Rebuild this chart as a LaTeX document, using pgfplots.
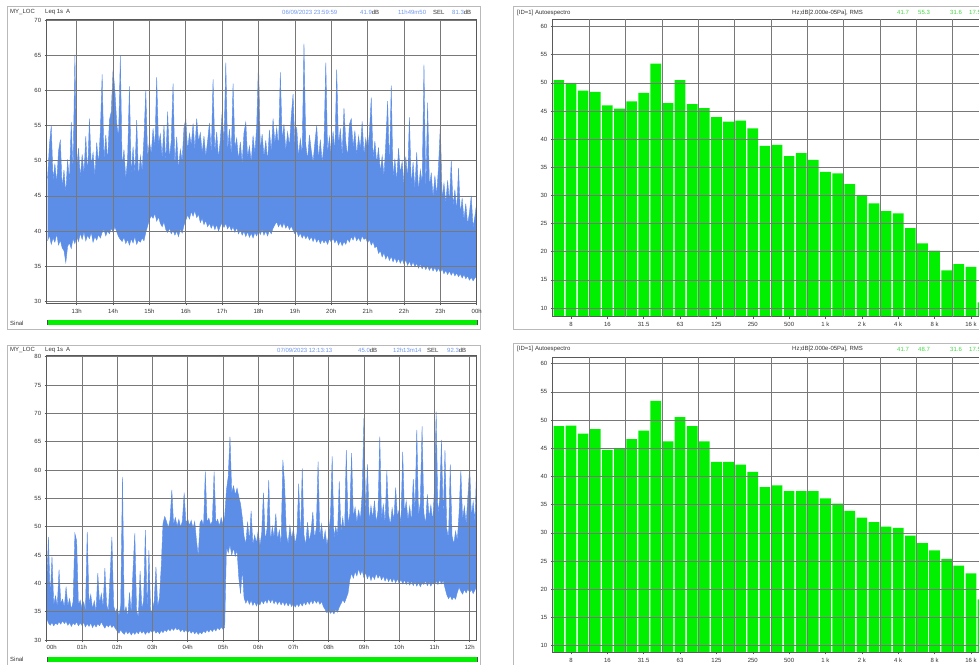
\documentclass[border=0pt]{standalone}
\usepackage{fontspec}
\setmainfont{Liberation Sans}
\usepackage{pgfplots}
\usepackage{pgfplotstable}
\pgfplotsset{compat=1.18}
\usepgfplotslibrary{fillbetween}
\definecolor{tsblue}{RGB}{92,142,232}
\definecolor{hdrblue}{RGB}{110,150,235}
\definecolor{bargreen}{RGB}{0,240,0}
\definecolor{hdrgreen}{RGB}{70,215,70}
\definecolor{gridgray}{RGB}{120,120,120}
\definecolor{framegray}{RGB}{185,185,185}

\pgfplotstableread{
t lo hi
12.20 38.6 47.5
12.25 39.4 52.3
12.30 38.1 55.0
12.35 39.0 47.2
12.40 38.4 49.6
12.45 39.6 46.8
12.50 38.0 51.4
12.55 38.7 53.0
12.60 37.6 46.1
12.65 37.2 48.7
12.70 35.5 45.3
12.75 37.8 50.2
12.80 38.3 47.0
12.85 37.5 55.5
12.90 38.9 48.4
12.95 38.2 65.1
13.00 39.3 49.0
13.05 38.5 51.8
13.10 39.7 47.6
13.15 38.8 50.9
13.20 39.9 48.2
13.25 38.6 53.5
13.30 39.4 47.9
13.35 38.9 56.0
13.40 39.8 49.3
13.45 38.4 51.2
13.50 39.2 47.8
13.55 38.7 52.6
13.60 39.5 49.5
13.65 39.0 54.2
13.70 39.8 62.3
13.75 40.2 50.1
13.80 39.3 53.7
13.85 40.0 49.8
13.90 39.6 55.8
13.95 40.4 57.0
14.00 39.8 63.0
14.05 40.6 60.0
14.10 39.9 55.4
14.15 39.2 53.1
14.20 38.8 64.9
14.25 38.5 49.2
14.30 39.1 51.6
14.35 38.2 47.4
14.40 38.8 50.3
14.45 38.0 60.6
14.50 38.9 47.9
14.55 38.3 52.0
14.60 39.2 48.1
14.65 38.1 55.8
14.70 38.7 47.5
14.75 38.4 50.7
14.80 39.0 48.6
14.85 38.6 53.3
14.90 39.8 60.0
14.95 40.7 50.5
15.00 41.6 52.8
15.05 42.2 51.0
15.10 41.8 54.6
15.15 42.5 51.7
15.20 41.4 61.9
15.25 42.0 52.3
15.30 41.1 53.8
15.35 40.6 50.4
15.40 41.3 55.1
15.45 40.2 49.6
15.50 39.8 57.0
15.55 40.4 50.2
15.60 39.6 52.9
15.65 40.1 61.0
15.70 39.4 49.3
15.75 40.0 53.4
15.80 39.2 48.8
15.85 40.3 51.6
15.90 39.7 50.0
15.95 40.8 54.7
16.00 41.5 56.0
16.05 42.3 51.4
16.10 41.7 53.9
16.15 42.8 52.2
16.20 42.1 55.3
16.25 42.9 51.6
16.30 41.9 56.0
16.35 42.4 52.7
16.40 41.2 54.0
16.45 41.8 51.1
16.50 40.9 53.5
16.55 41.5 50.6
16.60 40.6 52.8
16.65 41.1 55.4
16.70 40.4 50.9
16.75 41.0 61.6
16.80 40.2 51.2
16.85 40.9 54.1
16.90 40.0 50.3
16.95 40.7 53.0
17.00 41.2 57.0
17.05 40.5 52.4
17.10 41.1 64.0
17.15 40.3 51.3
17.20 40.8 54.5
17.25 40.1 50.7
17.30 40.6 61.0
17.35 39.8 51.9
17.40 40.5 53.2
17.45 39.6 50.1
17.50 40.2 52.7
17.55 39.4 49.6
17.60 40.0 54.0
17.65 39.2 55.5
17.70 39.9 50.4
17.75 39.1 52.1
17.80 39.7 49.8
17.85 39.0 53.6
17.90 39.8 51.0
17.95 39.3 55.0
18.00 40.1 64.2
18.05 39.5 51.5
18.10 40.2 53.8
18.15 39.4 50.6
18.20 40.0 52.9
18.25 39.3 49.9
18.30 40.1 54.4
18.35 39.6 51.2
18.40 40.4 56.0
18.45 40.9 52.5
18.50 41.3 54.7
18.55 40.6 51.8
18.60 41.1 62.6
18.65 40.5 53.0
18.70 41.2 55.2
18.75 40.4 51.4
18.80 40.9 54.1
18.85 40.2 52.0
18.90 40.7 56.3
18.95 40.1 59.5
19.00 39.6 52.2
19.05 40.0 54.8
19.10 39.2 50.5
19.15 39.7 53.1
19.20 39.0 51.0
19.25 39.5 66.7
19.30 38.9 52.3
19.35 39.4 50.1
19.40 38.7 53.7
19.45 39.2 51.5
19.50 38.5 49.8
19.55 39.1 52.6
19.60 38.4 55.0
19.65 38.9 50.2
19.70 38.2 53.0
19.75 38.8 49.7
19.80 38.3 52.4
19.85 38.7 64.0
19.90 38.1 51.1
19.95 38.9 53.4
20.00 38.4 50.6
20.05 39.0 54.2
20.10 38.3 51.3
20.15 38.8 63.0
20.20 38.0 52.0
20.25 38.6 54.6
20.30 37.9 50.8
20.35 38.5 57.5
20.40 38.1 52.7
20.45 38.9 50.5
20.50 38.4 55.2
20.55 39.2 56.0
20.60 38.7 51.9
20.65 39.4 54.3
20.70 38.6 50.7
20.75 39.1 53.5
20.80 38.5 51.6
20.85 39.3 55.6
20.90 38.8 50.9
20.95 39.0 53.2
21.00 38.3 51.4
21.05 38.8 54.0
21.10 38.0 59.0
21.15 38.5 50.3
21.20 37.6 52.8
21.25 37.9 49.6
21.30 36.8 51.9
21.35 37.2 48.4
21.40 36.3 50.7
21.45 36.9 47.8
21.50 36.0 52.5
21.55 36.6 58.5
21.60 35.8 48.9
21.65 36.4 60.7
21.70 35.6 47.5
21.75 36.2 50.3
21.80 35.5 47.0
21.85 36.1 51.8
21.90 35.4 48.2
21.95 36.0 49.9
22.00 35.3 46.6
22.05 35.9 50.6
22.10 35.1 47.3
22.15 35.7 56.2
22.20 35.0 46.4
22.25 35.6 49.8
22.30 34.9 46.0
22.35 35.4 51.2
22.40 34.7 45.6
22.45 35.3 48.7
22.50 34.6 46.9
22.55 35.1 63.7
22.60 34.5 45.3
22.65 35.0 58.3
22.70 34.4 46.2
22.75 34.9 48.3
22.80 34.3 44.8
22.85 34.8 47.9
22.90 34.2 45.1
22.95 34.7 49.2
23.00 34.1 55.0
23.05 34.6 44.6
23.10 33.9 46.8
23.15 34.4 43.9
23.20 33.8 47.2
23.25 34.3 44.1
23.30 33.7 50.0
23.35 34.2 43.6
23.40 33.6 45.9
23.45 34.0 42.8
23.50 33.5 49.0
23.55 33.9 42.4
23.60 33.3 44.7
23.65 33.8 41.6
23.70 33.2 43.9
23.75 33.6 40.9
23.80 33.0 42.6
23.85 33.4 45.0
23.90 32.9 40.5
23.95 33.3 42.1
24.00 33.6 44.0
}\tsA

\pgfplotstableread{
t lo hi
0.00 33.8 39.5
0.05 33.0 48.2
0.10 32.6 37.4
0.15 33.1 44.7
0.20 32.5 36.2
0.25 33.0 37.8
0.30 32.7 35.9
0.35 33.2 42.4
0.40 32.8 36.5
0.45 33.4 37.2
0.50 32.9 35.8
0.55 33.3 39.4
0.60 32.6 36.0
0.65 33.1 37.3
0.70 32.4 35.4
0.75 33.0 36.8
0.80 32.7 48.8
0.85 33.2 47.5
0.90 32.5 36.1
0.95 33.0 37.0
1.00 32.6 35.6
1.05 33.1 36.7
1.10 32.3 35.2
1.15 32.9 49.1
1.20 32.4 36.4
1.25 33.0 38.0
1.30 32.2 35.5
1.35 32.8 36.9
1.40 32.3 35.0
1.45 32.9 41.8
1.50 32.5 36.3
1.55 33.2 38.2
1.60 32.6 35.8
1.65 32.1 42.7
1.70 32.7 36.2
1.75 32.3 35.1
1.80 32.8 41.5
1.85 32.2 48.2
1.90 32.6 36.0
1.95 32.0 34.9
2.00 31.6 35.6
2.05 31.2 34.3
2.10 31.8 36.0
2.15 31.3 58.8
2.20 31.0 34.7
2.25 31.6 35.9
2.30 31.1 34.1
2.35 31.5 38.4
2.40 30.9 34.6
2.45 31.4 42.5
2.50 31.0 48.8
2.55 31.5 35.2
2.60 31.1 34.0
2.65 31.7 42.2
2.70 31.2 35.6
2.75 31.6 36.9
2.80 31.0 49.4
2.85 31.5 35.1
2.90 31.2 45.8
2.95 31.7 34.8
3.00 31.3 35.4
3.05 31.8 36.8
3.10 31.2 42.9
3.15 31.6 35.9
3.20 31.1 37.5
3.25 31.7 43.0
3.30 31.3 50.6
3.35 31.8 51.8
3.40 31.5 50.9
3.45 32.0 49.8
3.50 31.6 51.2
3.55 32.1 56.5
3.60 31.7 50.4
3.65 32.2 51.6
3.70 31.8 50.1
3.75 32.0 51.3
3.80 31.5 49.9
3.85 31.9 51.0
3.90 31.4 56.0
3.95 31.8 50.6
4.00 31.3 51.4
4.05 31.7 50.2
4.10 31.2 51.1
4.15 31.6 49.7
4.20 31.1 50.9
4.25 31.5 47.5
4.30 31.0 44.8
4.35 31.4 50.7
4.40 31.1 51.2
4.45 31.6 50.0
4.50 31.3 59.7
4.55 31.8 50.8
4.60 31.4 51.5
4.65 31.9 50.3
4.70 31.5 51.0
4.75 32.0 59.7
4.80 31.6 50.6
4.85 32.2 51.3
4.90 31.8 50.1
4.95 32.3 51.6
5.00 31.9 50.4
5.05 32.2 51.8
5.10 46.5 56.5
5.15 45.4 58.8
5.20 46.8 65.9
5.25 45.0 56.0
5.30 46.2 57.2
5.35 44.8 55.6
5.40 45.9 56.8
5.45 41.0 55.3
5.50 38.2 54.0
5.55 42.5 51.6
5.60 37.4 48.3
5.65 36.5 46.9
5.70 37.2 50.9
5.75 36.3 47.4
5.80 37.0 52.8
5.85 36.1 46.8
5.90 36.8 48.5
5.95 36.0 47.1
6.00 36.7 49.3
6.05 36.2 46.6
6.10 37.0 48.9
6.15 36.4 56.0
6.20 37.1 47.5
6.25 36.5 49.6
6.30 37.3 58.2
6.35 36.6 47.2
6.40 37.2 50.0
6.45 36.4 48.1
6.50 37.0 52.3
6.55 36.3 47.6
6.60 36.9 49.4
6.65 36.2 46.9
6.70 36.8 61.8
6.75 36.1 57.5
6.80 36.7 48.6
6.85 36.0 47.0
6.90 36.6 50.2
6.95 35.9 47.8
7.00 36.5 49.7
7.05 35.8 46.9
7.10 36.4 48.8
7.15 35.9 57.6
7.20 36.6 47.3
7.25 36.0 60.3
7.30 36.7 48.5
7.35 36.2 46.7
7.40 36.9 50.8
7.45 36.3 47.4
7.50 37.0 49.1
7.55 36.4 52.6
7.60 37.1 47.8
7.65 36.5 49.9
7.70 37.0 61.5
7.75 36.3 48.2
7.80 36.8 50.5
7.85 35.9 47.1
7.90 35.4 49.3
7.95 34.8 46.8
8.00 35.3 48.6
8.05 34.7 51.7
8.10 35.1 62.4
8.15 34.6 47.9
8.20 35.4 50.0
8.25 34.9 48.4
8.30 35.8 58.0
8.35 36.4 49.2
8.40 37.1 51.6
8.45 36.6 48.7
8.50 37.4 63.5
8.55 38.3 50.4
8.60 40.6 52.3
8.65 41.8 63.0
8.70 40.9 51.7
8.75 42.1 53.4
8.80 41.3 50.8
8.85 42.6 52.9
8.90 41.5 51.2
8.95 42.3 55.8
9.00 41.0 69.1
9.05 41.9 52.0
9.10 40.8 61.0
9.15 41.6 50.9
9.20 40.5 53.7
9.25 41.4 51.5
9.30 40.7 54.6
9.35 41.8 50.7
9.40 40.9 52.8
9.45 41.5 65.9
9.50 40.6 51.3
9.55 41.3 53.9
9.60 40.4 50.6
9.65 41.1 59.8
9.70 40.3 52.1
9.75 41.0 50.3
9.80 40.2 53.3
9.85 40.9 51.0
9.90 40.1 56.9
9.95 40.8 51.8
10.00 40.0 53.0
10.05 40.7 50.5
10.10 39.9 63.2
10.15 40.6 52.4
10.20 39.8 54.5
10.25 40.5 51.1
10.30 39.7 53.6
10.35 40.4 50.8
10.40 39.6 58.4
10.45 40.3 52.7
10.50 39.5 67.1
10.55 40.2 51.9
10.60 39.4 54.2
10.65 40.1 67.7
10.70 39.8 52.5
10.75 40.4 50.4
10.80 39.6 55.7
10.85 40.2 51.6
10.90 39.5 53.8
10.95 40.3 50.9
11.00 39.7 56.4
11.05 40.4 70.3
11.10 39.8 52.2
11.15 40.6 54.9
11.20 39.9 65.3
11.25 40.5 51.4
11.30 39.2 63.5
11.35 38.0 49.6
11.40 37.3 47.8
11.45 37.8 61.0
11.50 37.1 48.4
11.55 37.6 46.9
11.60 37.2 49.2
11.65 38.4 47.6
11.70 39.3 52.5
11.75 38.6 60.0
11.80 38.1 51.2
11.85 38.9 53.6
11.90 38.3 50.5
11.95 39.0 55.3
12.00 38.4 60.6
12.05 38.9 51.8
12.10 38.2 54.4
12.15 38.8 50.9
12.20 39.5 60.8
}\tsB

\pgfplotsset{
  common/.style={
    scale only axis, anchor=south west, axis on top,
    enlargelimits=false,
    axis line style={black!65, line width=0.8pt},
    grid style={gridgray, line width=0.6pt},
    tick style={black!65, line width=0.5pt},
    major tick length=2pt, tick align=outside,
    xtick pos=bottom, ytick pos=left,
    ticklabel style={font=\fontsize{6}{7}\selectfont, text=black!80},
    /pgf/number format/assume math mode=true,
  },
  tsaxis/.style={common, width=430pt, xmajorgrids, ymajorgrids},
  spaxis/.style={common, width=436.3pt, xmin=-0.5, xmax=35.5,
    ymajorgrids, ytick={10,15,...,60},
    xtick={1,4,...,34},
    xticklabels={8,16,31.5,63,125,250,500,1 k,2 k,4 k,8 k,16 k},
    extra x ticks={2.5,5.5,...,32.5}, extra x tick labels={},
    extra x tick style={xmajorgrids=true, major tick length=0pt},
    ybar, bar width=0.88},
}

\begin{document}
\begin{tikzpicture}

% frames
\draw[framegray, line width=0.8pt] (7pt,335pt) rectangle (480pt,658pt);
\draw[framegray, line width=0.8pt] (7pt,-5pt) rectangle (480pt,319pt);
\draw[framegray, line width=0.8pt] (513pt,335pt) rectangle (995pt,658pt);
\draw[framegray, line width=0.8pt] (513pt,-5pt) rectangle (995pt,321pt);

% top-left time series
\begin{axis}[tsaxis, at={(46.7pt,360.7pt)}, height=284.3pt,
  xmin=12.175, xmax=24, ymin=29.7, ymax=70.2,
  ytick={30,35,...,70},
  xtick={13,...,24},
  xticklabels={13h,14h,15h,16h,17h,18h,19h,20h,21h,22h,23h,00h}]
\addplot[name path=ahi, tsblue, line width=0.4pt] table[x=t,y=hi]{\tsA};
\addplot[name path=alo, tsblue, line width=0.4pt] table[x=t,y=lo]{\tsA};
\addplot[fill=tsblue, draw=none] fill between[of=ahi and alo];
\end{axis}

% bottom-left time series
\begin{axis}[tsaxis, at={(46.7pt,24pt)}, height=285pt,
  xmin=0, xmax=12.2, ymin=30, ymax=80.3,
  ytick={30,35,...,80},
  xtick={0,...,12},
  xticklabels={{\makebox[0pt][l]{00h}},01h,02h,03h,04h,05h,06h,07h,08h,09h,10h,11h,12h}]
\addplot[name path=bhi, tsblue, line width=0.4pt] table[x=t,y=hi]{\tsB};
\addplot[name path=blo, tsblue, line width=0.4pt] table[x=t,y=lo]{\tsB};
\addplot[fill=tsblue, draw=none] fill between[of=bhi and blo];
\end{axis}

% top-right spectrum
\begin{axis}[spaxis, at={(552.8pt,347.3pt)}, height=297.2pt, ymin=8.45, ymax=61.26]
\addplot[fill=bargreen, draw=none] coordinates {
(0,50.5) (1,50.0) (2,48.6) (3,48.4) (4,46.0) (5,45.4) (6,46.7) (7,48.2) (8,53.4)
(9,46.4) (10,50.5) (11,46.2) (12,45.5) (13,43.9) (14,43.1) (15,43.3) (16,41.9)
(17,38.8) (18,39.0) (19,37.0) (20,37.5) (21,36.3) (22,34.2) (23,33.9) (24,32.0)
(25,30.1) (26,28.6) (27,27.2) (28,26.8) (29,24.2) (30,21.5) (31,20.2) (32,16.7)
(33,17.8) (34,17.3) (35,11.0)};
\end{axis}

% bottom-right spectrum
\begin{axis}[spaxis, at={(552.8pt,11.7pt)}, height=295.3pt, ymin=8.83, ymax=61.17]
\addplot[fill=bargreen, draw=none] coordinates {
(0,48.9) (1,49.0) (2,47.6) (3,48.4) (4,44.7) (5,44.9) (6,46.6) (7,48.1) (8,53.4)
(9,46.2) (10,50.5) (11,48.9) (12,46.2) (13,42.6) (14,42.6) (15,42.1) (16,40.8)
(17,38.1) (18,38.4) (19,37.4) (20,37.4) (21,37.4) (22,36.1) (23,35.2) (24,33.9)
(25,32.7) (26,31.9) (27,31.1) (28,30.9) (29,29.5) (30,28.2) (31,26.9) (32,25.4)
(33,24.2) (34,22.8) (35,18.2)};
\end{axis}

% headers
\begin{scope}[every node/.style={font=\fontsize{6}{7}\selectfont, inner sep=0pt, anchor=west}]
\node[text=black!80] at (10pt,651.5pt) {MY\_LOC};
\node[text=black!80] at (45pt,651.5pt) {Leq 1s\enspace A};
\node[text=hdrblue] at (282pt,651.5pt) {06/09/2023 23:59:59};
\node at (360pt,651.5pt) {\textcolor{hdrblue}{41.9}\textcolor{black!80}{dB}};
\node[text=hdrblue] at (398pt,651.5pt) {11h49m50};
\node[text=black!80] at (433pt,651.5pt) {SEL};
\node at (452pt,651.5pt) {\textcolor{hdrblue}{81.3}\textcolor{black!80}{dB}};

\node[text=black!80] at (10pt,314pt) {MY\_LOC};
\node[text=black!80] at (45pt,314pt) {Leq 1s\enspace A};
\node[text=hdrblue] at (277pt,314pt) {07/09/2023 12:13:13};
\node at (358pt,314pt) {\textcolor{hdrblue}{45.0}\textcolor{black!80}{dB}};
\node[text=hdrblue] at (393pt,314pt) {12h13m14};
\node[text=black!80] at (427pt,314pt) {SEL};
\node at (447pt,314pt) {\textcolor{hdrblue}{92.3}\textcolor{black!80}{dB}};

\node[text=black!80] at (517pt,651.5pt) {[ID=1] Autoespectro};
\node[text=black!80] at (792pt,651.5pt) {Hz;dB[2.000e-05Pa], RMS};
\node[text=hdrgreen] at (897pt,651.5pt) {41.7};
\node[text=hdrgreen] at (918pt,651.5pt) {55.3};
\node[text=hdrgreen] at (950pt,651.5pt) {31.6};
\node[text=hdrgreen] at (969pt,651.5pt) {17.5};

\node[text=black!80] at (517pt,315pt) {[ID=1] Autoespectro};
\node[text=black!80] at (792pt,315pt) {Hz;dB[2.000e-05Pa], RMS};
\node[text=hdrgreen] at (897pt,315pt) {41.7};
\node[text=hdrgreen] at (918pt,315pt) {48.7};
\node[text=hdrgreen] at (950pt,315pt) {31.6};
\node[text=hdrgreen] at (969pt,315pt) {17.5};

\node[text=black!80] at (10pt,341pt) {Sinal};
\node[text=black!80] at (10pt,5pt) {Sinal};
\end{scope}

% signal bars
\fill[bargreen] (47pt,338.5pt) rectangle (477pt,344pt);
\draw[black!70, line width=0.8pt] (47pt,338.5pt) -- (47pt,344pt) (477pt,338.5pt) -- (477pt,344pt);
\fill[bargreen] (47pt,2pt) rectangle (477pt,7.5pt);
\draw[black!70, line width=0.8pt] (47pt,2pt) -- (47pt,7.5pt) (477pt,2pt) -- (477pt,7.5pt);

\pgfresetboundingbox
\useasboundingbox (0pt,0pt) rectangle (979pt,664pt);
\end{tikzpicture}
\end{document}
